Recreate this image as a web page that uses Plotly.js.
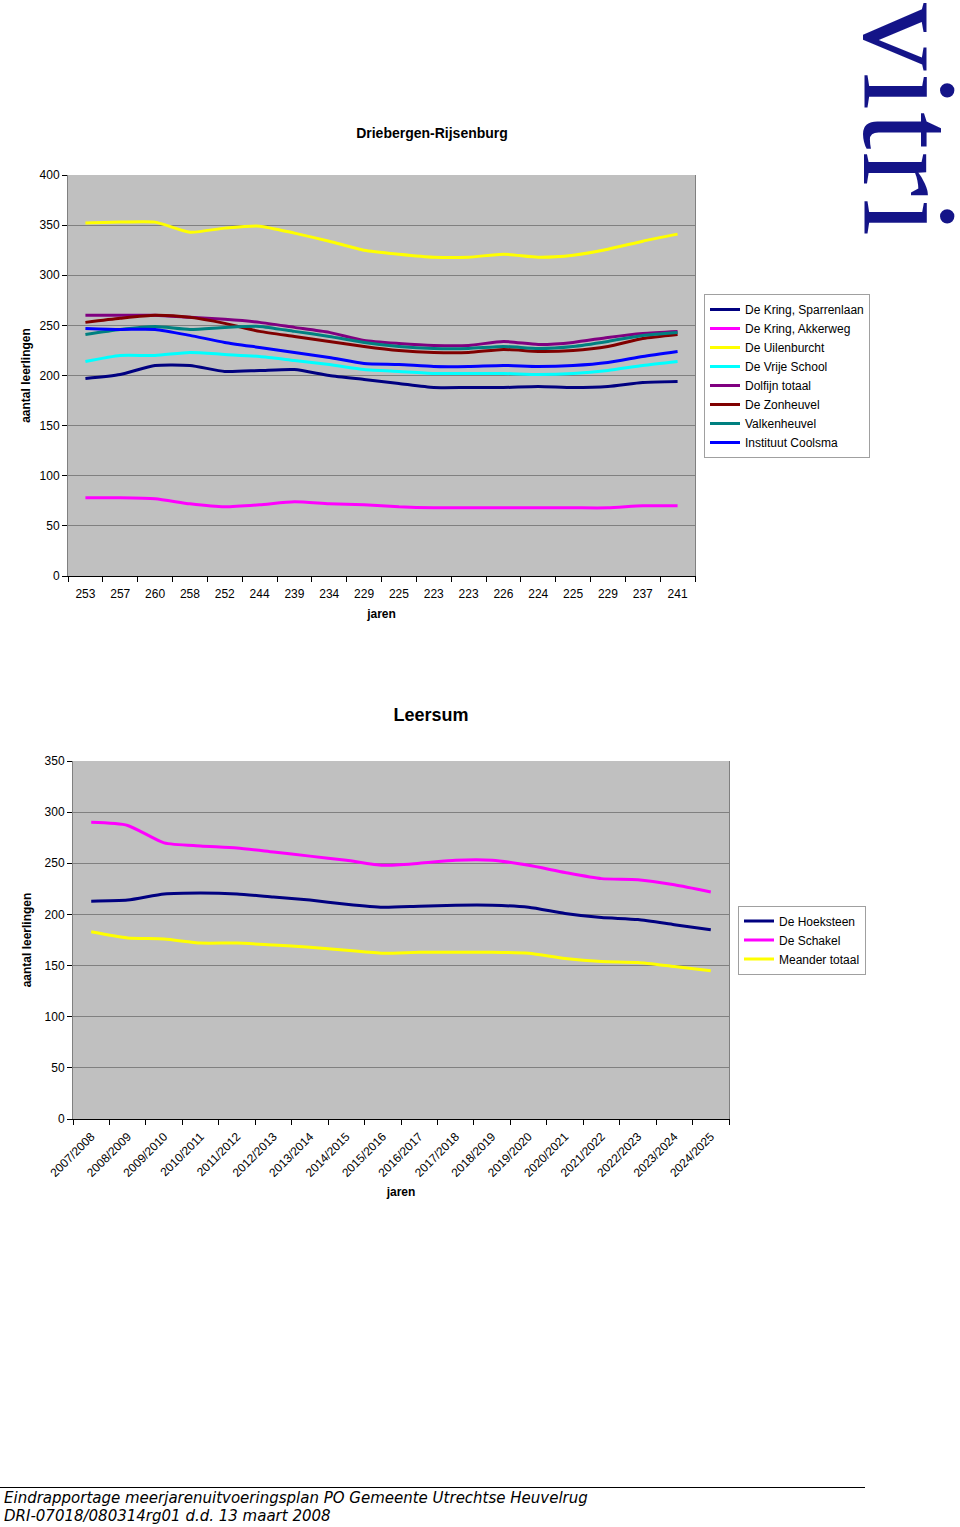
<!DOCTYPE html>
<html>
<head>
<meta charset="utf-8">
<script src="https://cdn.plot.ly/plotly-3.0.1.min.js"></script>
<style>
html,body{margin:0;padding:0;background:#fff;}
body{width:960px;height:1527px;position:relative;overflow:hidden;font-family:"Liberation Sans",Arial,sans-serif;}
#c1{position:absolute;left:0;top:0;width:960px;height:650px;z-index:1;}
#c2{position:absolute;left:0;top:650px;width:960px;height:600px;z-index:1;}
#logo{position:absolute;left:862px;top:3px;width:94px;z-index:5;writing-mode:vertical-rl;text-orientation:mixed;font-family:"Liberation Serif","DejaVu Serif",serif;font-size:135px;line-height:94px;letter-spacing:2px;color:#141488;white-space:nowrap;}
#footline{position:absolute;left:0;top:1487px;width:865px;height:0;border-top:1px solid #000;}
#footer{position:absolute;left:4px;top:1489px;font-family:"DejaVu Sans",Verdana,sans-serif;font-style:italic;font-size:15px;line-height:18px;color:#000;white-space:nowrap;}
</style>
</head>
<body>
<div id="c1"></div>
<div id="c2"></div>
<div id="logo">vitri</div>
<div id="footline"></div>
<div id="footer">Eindrapportage meerjarenuitvoeringsplan PO Gemeente Utrechtse Heuvelrug<br>DRI-07018/080314rg01 d.d. 13 maart 2008</div>
<script>
// ---------- data ----------
const years = ['2007/2008','2008/2009','2009/2010','2010/2011','2011/2012','2012/2013','2013/2014','2014/2015','2015/2016','2016/2017','2017/2018','2018/2019','2019/2020','2020/2021','2021/2022','2022/2023','2023/2024','2024/2025'];

// Driebergen-Rijsenburg (x tick labels as printed in the source)
const driebergenTickLabels = ['253','257','260','258','252','244','239','234','229','225','223','223','226','224','225','229','237','241'];
const kringSparrenlaan = [197,201,210,210,204,205,206,200,196,192,188,188,188,189,188,189,193,194];
const kringAkkerweg    = [78,78,77,72,69,71,74,72,71,69,68,68,68,68,68,68,70,70];
const uilenburcht      = [352,353,353,343,347,349,342,334,325,321,318,318,321,318,320,326,334,341];
const vrijeSchool      = [214,220,220,223,221,219,215,211,206,204,202,202,202,201,202,205,210,214];
const dolfijnTotaal    = [260,260,260,258,256,253,248,243,235,232,230,230,234,231,233,238,242,244];
const zonheuvel        = [253,257,260,258,252,244,239,234,229,225,223,223,226,224,225,229,237,241];
const valkenheuvel     = [241,246,249,246,248,249,244,239,233,229,227,227,229,227,229,234,240,243];
const instituutCoolsma = [247,246,246,240,233,228,223,218,212,211,209,209,210,209,210,213,219,224];

// Leersum
const hoeksteen     = [213,214,220,221,220,217,214,210,207,208,209,209,207,201,197,195,190,185];
const schakel       = [290,287,270,267,265,261,257,253,248,250,253,253,248,241,235,234,229,222];
const meanderTotaal = [183,177,176,172,172,170,168,165,162,163,163,163,162,157,154,153,149,145];

// ---------- styling ----------
const FONT = '"Liberation Sans", Arial, sans-serif';
const GRID = '#808080';

function line(name, y, color){
  return {type:'scatter', mode:'lines', name:name, x:years, y:y,
          line:{color:color, width:3, shape:'spline', smoothing:0.6}};
}

const traces1 = [
  line('De Kring, Sparrenlaan', kringSparrenlaan, '#000080'),
  line('De Kring, Akkerweg', kringAkkerweg, '#FF00FF'),
  line('De Uilenburcht', uilenburcht, '#FFFF00'),
  line('De Vrije School', vrijeSchool, '#00FFFF'),
  line('Dolfijn totaal', dolfijnTotaal, '#800080'),
  line('De Zonheuvel', zonheuvel, '#800000'),
  line('Valkenheuvel', valkenheuvel, '#008080'),
  line('Instituut Coolsma', instituutCoolsma, '#0000FF')
];

const traces2 = [
  line('De Hoeksteen', hoeksteen, '#000080'),
  line('De Schakel', schakel, '#FF00FF'),
  line('Meander totaal', meanderTotaal, '#FFFF00')
];

function yaxis(max, standoff){
  return {range:[0,max], dtick:50, tick0:0, ticks:'outside', ticklen:5, tickcolor:'#000',
          showgrid:true, gridcolor:GRID, gridwidth:1, zeroline:false,
          showline:true, linecolor:GRID, linewidth:1, mirror:true,
          tickfont:{family:FONT, size:12, color:'#000'},
          title:{text:'aantal leerlingen', font:{family:FONT, size:12, color:'#000', weight:'bold'}, standoff:standoff},
          automargin:false, fixedrange:true};
}

const layout1 = {
  width:960, height:650,
  margin:{l:68, r:265, t:175, b:74},
  paper_bgcolor:'rgba(0,0,0,0)', plot_bgcolor:'#C0C0C0',
  font:{family:FONT, size:12, color:'#000'},
  title:{text:'Driebergen-Rijsenburg', font:{family:FONT, size:14, color:'#000', weight:'bold'},
         xref:'container', x:0.45, xanchor:'center', yref:'container', y:1-133/650, yanchor:'middle'},
  xaxis:{type:'category', range:[-0.5,17.5], tickmode:'array', tickvals:years, ticktext:driebergenTickLabels,
         tickson:'boundaries', ticks:'outside', ticklen:5, tickcolor:'#000', tickangle:0, ticklabelstandoff:7,
         showgrid:false, zeroline:false, showline:true, linecolor:'#000', linewidth:1, mirror:false,
         tickfont:{family:FONT, size:12, color:'#000'},
         title:{text:'jaren', font:{family:FONT, size:12, color:'#000', weight:'bold'}, standoff:9},
         automargin:false, fixedrange:true},
  yaxis:yaxis(400, 6),
  showlegend:true,
  legend:{x:(704-68)/627, xanchor:'left', y:(576-376)/401, yanchor:'middle',
          bgcolor:'#fff', bordercolor:'#A0A0A0', borderwidth:1,
          font:{family:FONT, size:12, color:'#000'}, tracegroupgap:0, itemwidth:30}
};

const layout2 = {
  width:960, height:600,
  margin:{l:73, r:231, t:111, b:131},
  paper_bgcolor:'rgba(0,0,0,0)', plot_bgcolor:'#C0C0C0',
  font:{family:FONT, size:12, color:'#000'},
  title:{text:'Leersum', font:{family:FONT, size:18, color:'#000', weight:'bold'},
         xref:'container', x:431/960, xanchor:'center', yref:'container', y:1-65/600, yanchor:'middle'},
  xaxis:{type:'category', range:[-0.5,17.5],
         tickson:'boundaries', ticks:'outside', ticklen:5, tickcolor:'#000', tickangle:-45, ticklabelstandoff:5,
         showgrid:false, zeroline:false, showline:true, linecolor:'#000', linewidth:1, mirror:false,
         tickfont:{family:FONT, size:12, color:'#000'},
         title:{text:'jaren', font:{family:FONT, size:12, color:'#000', weight:'bold'}, standoff:8},
         automargin:false, fixedrange:true},
  yaxis:yaxis(350, 10),
  showlegend:true,
  legend:{x:(738-73)/656, xanchor:'left', y:(1119-940)/358, yanchor:'middle',
          bgcolor:'#fff', bordercolor:'#A0A0A0', borderwidth:1,
          font:{family:FONT, size:12, color:'#000'}, tracegroupgap:0, itemwidth:30}
};

Plotly.newPlot('c1', traces1, layout1, {staticPlot:true, displayModeBar:false});
Plotly.newPlot('c2', traces2, layout2, {staticPlot:true, displayModeBar:false});
</script>
</body>
</html>
